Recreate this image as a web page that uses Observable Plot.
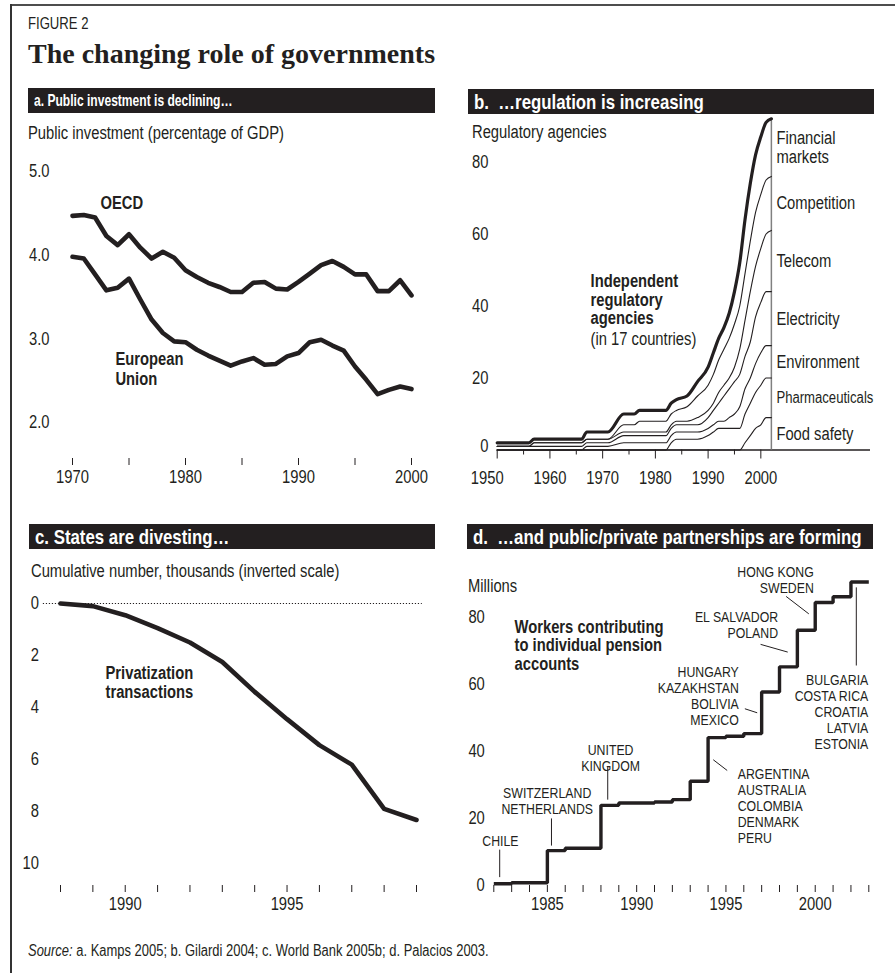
<!DOCTYPE html>
<html>
<head>
<meta charset="utf-8">
<script src="https://cdn.jsdelivr.net/npm/d3@7"></script>
<script src="https://cdn.jsdelivr.net/npm/@observablehq/plot@0.6"></script>
<style>
  html, body { margin: 0; padding: 0; background: #fff; }
  #fig { position: relative; width: 895px; height: 973px; overflow: hidden; background: #fff; color: #231f20;
    font-family: "Liberation Sans", Arial, sans-serif; }
  .t { position: absolute; white-space: pre; line-height: 1; }
  .c { display: inline-block; transform: scaleX(0.82); transform-origin: 0 50%; white-space: pre; }
  .bar { position: absolute; z-index: 2; height: 25px; width: 406px; background: #231f20; color: #fff; font-weight: bold;
    font-size: 20.5px; line-height: 25px; padding-left: 6px; box-sizing: border-box; white-space: pre; overflow: hidden; }
  .lab { font-size: 18px; }
  #fig svg { position: absolute; overflow: visible; }
</style>
</head>
<body>
<div id="fig">
  <div style="position:absolute;left:10px;top:4px;width:885px;height:2px;background:#4d4d4d"></div>
  <div style="position:absolute;left:10px;top:4px;width:1.5px;height:969px;background:#333"></div>
  <div class="t" style="left:28px;top:16px;font-size:16px"><span class="c">FIGURE 2</span></div>
  <div class="t" style="left:28px;top:40px;font-size:28px;font-weight:bold;font-family:'Liberation Serif','DejaVu Serif',serif">The changing role of governments</div>

  <div class="bar" style="left:28px;top:88px;width:407px;font-size:17px"><span class="c" style="transform:scaleX(0.71)">a. Public investment is declining…</span></div>
  <div class="bar" style="left:468px;top:89px"><span class="c">b.  …regulation is increasing</span></div>
  <div class="bar" style="left:29px;top:524px"><span class="c">c. States are divesting…</span></div>
  <div class="bar" style="left:467px;top:524px"><span class="c">d.  …and public/private partnerships are forming</span></div>

  <div class="t lab" style="left:28px;top:124px"><span class="c">Public investment (percentage of GDP)</span></div>
  <div class="t lab" style="left:472px;top:123px"><span class="c">Regulatory agencies</span></div>
  <div class="t lab" style="left:31px;top:562px"><span class="c">Cumulative number, thousands (inverted scale)</span></div>
  <div class="t lab" style="left:468px;top:577px"><span class="c">Millions</span></div>

  <div class="t" style="left:28px;top:943px;font-size:15.8px"><span class="c"><i>Source:</i> a. Kamps 2005; b. Gilardi 2004; c. World Bank 2005b; d. Palacios 2003.</span></div>
</div>
<script>
// ---------- DATA ----------
// a. Public investment, % of GDP
const yearsA = d3.range(1970, 2001);
const oecd = [4.47,4.48,4.45,4.23,4.12,4.25,4.09,3.96,4.04,3.97,3.82,3.74,3.67,3.62,3.56,3.56,3.67,3.68,3.60,3.59,3.68,3.78,3.88,3.93,3.86,3.77,3.77,3.57,3.57,3.70,3.52];
const eu   = [3.98,3.96,3.77,3.58,3.61,3.72,3.47,3.23,3.07,2.97,2.96,2.87,2.80,2.74,2.68,2.73,2.77,2.69,2.70,2.79,2.83,2.96,2.99,2.92,2.86,2.67,2.51,2.34,2.39,2.43,2.40];
const ticksA = [2, 3, 4, 5];

// b. Independent regulatory agencies (17 countries), by sector
const yearsB = [1950,1956,1957,1966,1967,1971,1974,1976,1977,1982,1983,1984,1986,1988,1990,1991,1992,1993,1994,1995,1996,1997,1998,1999,2000,2001,2002];
const sectors = ["Food safety","Pharmaceuticals","Environment","Electricity","Telecom","Competition","Financial\nmarkets"];
const foodSafety   = [0,0,0,0,0,0,0,0,0,0,0,0,0,0,0,0,0,0,0,0,0,2,4,6,7,9,9];
const pharma       = [0,0,0,0,0,0,0,0,0,0,2,3,3,3,4,5,6,6,6,6,6,8,9,10,11,11,11];
const environment  = [0,0,0,0,1,1,2,2,2,2,2,2,2,2,2,2,2,2,3,4,6,7,7,8,9,9,9];
const electricity  = [1,1,1,1,1,1,2,2,2,2,2,2,2,2,3,4,5,7,8,9,9,9,10,13,14,15,15];
const telecom      = [0,0,1,1,1,1,1,1,1,1,1,1,1,2,2,2,3,3,3,4,7,10,14,14,15,16,17];
const competition  = [0,0,0,0,0,0,2,2,3,3,3,3,4,6,7,8,9,10,11,12,12,13,14,15,15,15,15];
const financial    = [1,1,1,1,2,2,3,3,3,3,3,3,3,4,5,6,6,6,7,9,12,15,16,16,16,16,16];
const ticksB = [20, 40, 60, 80];

// c. Privatization transactions, cumulative thousands
const yearsC = d3.range(1988, 2000);
const privatization = [0,0.1,0.45,0.95,1.5,2.25,3.4,4.45,5.45,6.2,7.9,8.33];
const ticksC = [0, 2, 4, 6, 8, 10];

// d. Workers contributing to individual pension accounts, millions
const yearsD = d3.range(1982, 2004);
const workers = [0.5,0.8,0.8,10.4,11.1,11.1,23.9,24.6,24.6,24.9,25.6,31.1,44.1,44.5,45.3,57.7,65.2,76.1,84.4,86.1,90.5,90.5];
const ticksD = [0, 20, 40, 60, 80];
const countryNotes = [
  "CHILE", "SWITZERLAND\nNETHERLANDS", "UNITED\nKINGDOM", "ARGENTINA\nAUSTRALIA\nCOLOMBIA\nDENMARK\nPERU",
  "HUNGARY\nKAZAKHSTAN\nBOLIVIA\nMEXICO", "EL SALVADOR\nPOLAND", "HONG KONG\nSWEDEN",
  "BULGARIA\nCOSTA RICA\nCROATIA\nLATVIA\nESTONIA"
];

// ---------- LAYOUT (annotation placement in data units) ----------
const noteLayout = [
  {x: 1982.37, y: 13.4, a: "middle"},
  {x: 1984.99, y: 25.2, a: "middle"},
  {x: 1988.54, y: 38.1, a: "middle"},
  {x: 1995.66, y: 23.8, a: "start"},
  {x: 1995.72, y: 56.5, a: "end"},
  {x: 1997.92, y: 77.6, a: "end"},
  {x: 1999.92, y: 91.1, a: "end"},
  {x: 2002.97, y: 51.7, a: "end"}
];
const leaderLayout = [
  [1982.33, 10.7, 1982.33, 2.5],
  [1985.23, 20.0, 1985.23, 11.9],
  [1988.38, 35.3, 1988.38, 25.6],
  [1994.29, 37.5, 1995.07, 34.3],
  [1996.06, 52.7, 1996.75, 51.5],
  [1996.94, 71.9, 1998.46, 69.6],
  [1998.37, 86.2, 1999.64, 81.0],
  [2002.30, 88.9, 2002.30, 65.6]
];

// ---------- DRAW ----------
const INK = "#231f20";
const FONT = '"Liberation Sans", Arial, sans-serif';
const K = 0.82; // horizontal condensing of the sans text
const style = {fontFamily: FONT, fontSize: "18px", color: INK, background: "transparent", overflow: "visible"};
const fig = document.getElementById("fig");
function condense(svg) {
  svg.querySelectorAll("text").forEach(t => {
    const spans = t.querySelectorAll("tspan");
    const leaves = spans.length ? Array.from(spans) : [t];
    leaves.forEach(el => {
      if (!el.textContent) return;
      const L = el.getComputedTextLength();
      if (L > 0) { el.setAttribute("textLength", L * K); el.setAttribute("lengthAdjust", "spacingAndGlyphs"); }
    });
  });
}
function place(svg, left, top) {
  svg.style.left = left + "px"; svg.style.top = top + "px";
  fig.insertBefore(svg, fig.querySelector(".bar"));
  condense(svg);
}
const yr = d => String(d);

// Panel a
const rowsA = [
  ...yearsA.map((year, i) => ({year, value: oecd[i], s: "OECD"})),
  ...yearsA.map((year, i) => ({year, value: eu[i], s: "EU"}))
];
place(Plot.plot({
  width: 445, height: 340, marginLeft: 72, marginRight: 34, marginTop: 21, marginBottom: 32,
  x: {domain: [1970, 2000]}, y: {domain: [1.57, 5]}, style,
  marks: [
    Plot.axisY({ticks: ticksA, tickFormat: d3.format(".1f"), tickSize: 0, tickPadding: 23, label: null}),
    Plot.axisX({ticks: d3.range(1970, 2001, 5), tickFormat: d => d % 10 === 0 ? yr(d) : "", tickSize: 7, tickPadding: 5, label: null}),
    Plot.line(rowsA, {x: "year", y: "value", z: "s", stroke: INK, strokeWidth: 4.6, strokeLinejoin: "round"}),
    Plot.text(["OECD"], {x: 1972.48, y: 4.618, text: d => d, textAnchor: "start", fontWeight: "bold"}),
    Plot.text(["European\nUnion"], {x: 1973.8, y: 2.646, text: d => d, textAnchor: "start", fontWeight: "bold", lineHeight: 1.1})
  ]
}), 0, 150);

// Panel b
const countsB = [foodSafety, pharma, environment, electricity, telecom, competition, financial];
const tops = countsB.map((_, k) => yearsB.map((year, j) => ({year, top: d3.sum(countsB.slice(0, k + 1), c => c[j])})));
const last = yearsB.length - 1;
const labelsB = sectors.map((name, k) => ({
  name, mid: (tops[k][last].top + (k ? tops[k - 1][last].top : 0)) / 2
}));
const totalLast = tops[tops.length - 1][last].top;
place(Plot.plot({
  width: 450, height: 370, marginLeft: 51.7, marginRight: 25, marginTop: 0, marginBottom: 34.5,
  x: {domain: [1950, 2020.8]}, y: {domain: [0, 93.2]}, style,
  marks: [
    Plot.axisY({ticks: ticksB, tickFormat: yr, tickSize: 0, tickPadding: 8.7, label: null}),
    Plot.text([0], {x: 1950, y: d => d, text: yr, dx: -8.7, dy: -4, textAnchor: "end"}),
    Plot.axisX({ticks: d3.range(1950, 2001, 10), tickFormat: () => "", tickSize: 9, label: null}),
    Plot.axisX({ticks: d3.range(1955, 2000, 10), tickFormat: () => "", tickSize: 5, label: null}),
    Plot.axisX({ticks: d3.range(1960, 2001, 10), tickFormat: yr, tickSize: 0, tickPadding: 21, label: null}),
    Plot.text([1950], {x: d => d, y: 0, text: yr, dx: -10, dy: 28}),
    Plot.ruleY([0], {x1: 1950, x2: 2020.8, stroke: INK, strokeWidth: 1.4}),
    Plot.ruleX([2002], {y1: 0, y2: totalLast, stroke: "#808080", strokeWidth: 1.5}),
    ...tops.map((rows, k) => Plot.line(rows, {x: "year", y: "top", curve: "monotone-x", stroke: INK,
      strokeWidth: k === tops.length - 1 ? 3.2 : 1.1})),
    Plot.text(labelsB, {x: 2002, y: "mid", text: "name", dx: 5, textAnchor: "start", lineHeight: 1.05,
      fontSize: d => d.name.split("\n").some(l => l.length > 12) ? 16 : 18}),
    Plot.text(["Independent\nregulatory\nagencies"], {x: 1967.7, y: 41.8, text: d => d, textAnchor: "start", fontWeight: "bold", lineHeight: 1.05}),
    Plot.text(["(in 17 countries)"], {x: 1967.7, y: 30.9, text: d => d, textAnchor: "start"})
  ]
}), 445, 114);

// Panel c
const rowsC = yearsC.map((year, i) => ({year, value: privatization[i]}));
place(Plot.plot({
  width: 445, height: 330, marginLeft: 60, marginRight: 29, marginTop: 13, marginBottom: 35,
  x: {domain: [1988, 1999]}, y: {domain: [0, 10.85], reverse: true}, style,
  marks: [
    Plot.axisY({ticks: ticksC, tickFormat: yr, tickSize: 0, tickPadding: 21.5, label: null}),
    Plot.axisX({ticks: yearsC, tickFormat: d => d % 5 === 0 ? yr(d) : "", tickSize: 7, tickPadding: 5, label: null}),
    Plot.ruleY([0], {x1: 1987.47, x2: 1999.18, stroke: INK, strokeWidth: 1, strokeDasharray: "1.2,1.8"}),
    Plot.line(rowsC, {x: "year", y: "value", stroke: INK, strokeWidth: 4.6, strokeLinejoin: "round"}),
    Plot.text(["Privatization\ntransactions"], {x: 1989.39, y: 3.04, text: d => d, textAnchor: "start", fontWeight: "bold", lineHeight: 1.05})
  ]
}), 0, 590);

// Panel d
const rowsD = yearsD.map((year, i) => ({year, value: workers[i]}));
const notesD = countryNotes.map((text, i) => ({text, ...noteLayout[i]}));
const leadersD = leaderLayout.map(([x1, y1, x2, y2]) => ({x1, y1, x2, y2}));
place(Plot.plot({
  width: 450, height: 365, marginLeft: 48.3, marginRight: 26.7, marginTop: 0, marginBottom: 35,
  x: {domain: [1982, 2003]}, y: {domain: [0, 98.4]}, style,
  marks: [
    Plot.axisY({ticks: ticksD, tickFormat: yr, tickSize: 0, tickPadding: 9, label: null}),
    Plot.axisX({ticks: yearsD, tickFormat: d => d % 5 === 0 ? yr(d) : "", tickSize: 7, tickPadding: 5, label: null}),
    Plot.line(rowsD, {x: "year", y: "value", curve: "step-after", stroke: INK, strokeWidth: 3.4, strokeLinejoin: "miter", strokeLinecap: "butt"}),
    Plot.link(leadersD, {x1: "x1", y1: "y1", x2: "x2", y2: "y2", stroke: INK, strokeWidth: 1}),
    ...["start", "middle", "end"].map(a => Plot.text(notesD.filter(d => d.a === a),
      {x: "x", y: "y", text: "text", textAnchor: a, fontSize: 15, lineHeight: 1.07})),
    Plot.text(["Workers contributing\nto individual pension\naccounts"], {x: 1983.16, y: 71.6, text: d => d, textAnchor: "start", fontWeight: "bold", lineHeight: 1.04, fontSize: 18})
  ]
}), 445, 555);
</script>
</body>
</html>
